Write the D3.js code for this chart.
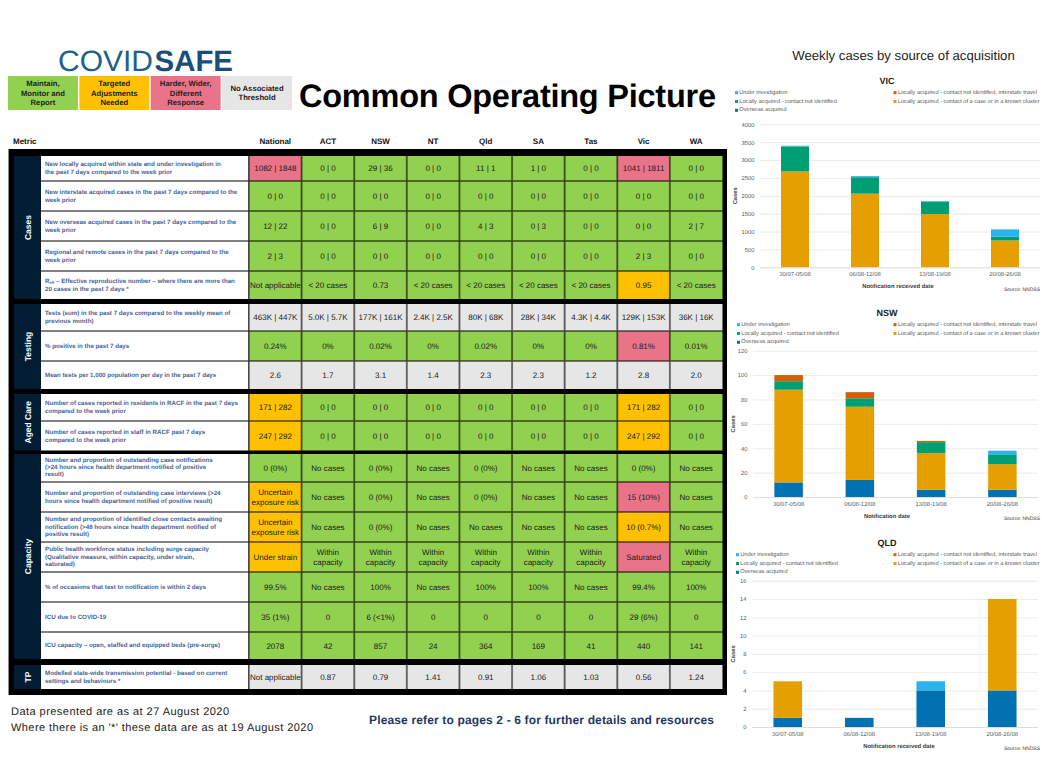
<!DOCTYPE html>
<html>
<head>
<meta charset="utf-8">
<script src="https://cdn.jsdelivr.net/npm/d3@7"></script>
<style>
    html, body { margin: 0; padding: 0; background: white; overflow: hidden; }
    svg { display: block; text-rendering: geometricPrecision; }
    text { font-family: "Liberation Sans", Arial, sans-serif; }
</style>
</head>
<body>
<div id="bigdiv"></div>
<script>
// ---- table data ----
const jurisdictions = ['National', 'ACT', 'NSW', 'NT', 'Qld', 'SA', 'Tas', 'Vic', 'WA']

const groupNames = ['Cases', 'Testing', 'Aged Care', 'Capacity', 'TP']
const groupRowCounts = [5, 3, 2, 7, 1]

const statusKey = ['Maintain,\nMonitor and\nReport', 'Targeted\nAdjustments\nNeeded', 'Harder, Wider,\nDifferent\nResponse', 'No Associated\nThreshold']

const metricLabels = [
    'New locally acquired within state and under investigation in\nthe past 7 days compared to the week prior',
    'New interstate acquired cases in the past 7 days compared to the\nweek prior',
    'New overseas acquired cases in the past 7 days compared to the\nweek prior',
    'Regional and remote cases in the past 7 days compared to the\nweek prior',
    'Reff – Effective reproductive number – where there are more than\n20 cases in the past 7 days *',
    'Tests (sum) in the past 7 days compared to the weekly mean of\nprevious month)',
    '% positive in the past 7 days',
    'Mean tests per 1,000 population per day in the past 7 days',
    'Number of cases reported in residents in RACF in the past 7 days\ncompared to the week prior',
    'Number of cases reported in staff in RACF past 7 days\ncompared to the week prior',
    'Number and proportion of outstanding case notifications\n(>24 hours since health department notified of positive\nresult)',
    'Number and proportion of outstanding case interviews (>24\nhours since health department notified of positive result)',
    'Number and proportion of identified close contacts awaiting\nnotification (>48 hours since health department notified of\npositive result)',
    'Public health workforce status including surge capacity\n(Qualitative measure, within capacity, under strain,\nsaturated)',
    '% of occasions that test to notification is within 2 days',
    'ICU due to COVID-19',
    'ICU capacity – open, staffed and equipped beds (pre-surge)',
    'Modelled state-wide transmission potential - based on current\nsettings and behaviours *'
]

const cellValues = [
    ['1082 | 1848', '0 | 0', '29 | 36', '0 | 0', '11 | 1', '1 | 0', '0 | 0', '1041 | 1811', '0 | 0'],
    ['0 | 0', '0 | 0', '0 | 0', '0 | 0', '0 | 0', '0 | 0', '0 | 0', '0 | 0', '0 | 0'],
    ['12 | 22', '0 | 0', '6 | 9', '0 | 0', '4 | 3', '0 | 3', '0 | 0', '0 | 0', '2 | 7'],
    ['2 | 3', '0 | 0', '0 | 0', '0 | 0', '0 | 0', '0 | 0', '0 | 0', '2 | 3', '0 | 0'],
    ['Not applicable', '< 20 cases', '0.73', '< 20 cases', '< 20 cases', '< 20 cases', '< 20 cases', '0.95', '< 20 cases'],
    ['463K | 447K', '5.0K | 5.7K', '177K | 161K', '2.4K | 2.5K', '80K | 68K', '28K | 34K', '4.3K | 4.4K', '129K | 153K', '36K | 16K'],
    ['0.24%', '0%', '0.02%', '0%', '0.02%', '0%', '0%', '0.81%', '0.01%'],
    ['2.6', '1.7', '3.1', '1.4', '2.3', '2.3', '1.2', '2.8', '2.0'],
    ['171 | 282', '0 | 0', '0 | 0', '0 | 0', '0 | 0', '0 | 0', '0 | 0', '171 | 282', '0 | 0'],
    ['247 | 292', '0 | 0', '0 | 0', '0 | 0', '0 | 0', '0 | 0', '0 | 0', '247 | 292', '0 | 0'],
    ['0 (0%)', 'No cases', '0 (0%)', 'No cases', '0 (0%)', 'No cases', 'No cases', '0 (0%)', 'No cases'],
    ['Uncertain\nexposure risk', 'No cases', '0 (0%)', 'No cases', '0 (0%)', 'No cases', 'No cases', '15 (10%)', 'No cases'],
    ['Uncertain\nexposure risk', 'No cases', '0 (0%)', 'No cases', 'No cases', 'No cases', 'No cases', '10 (0.7%)', 'No cases'],
    ['Under strain', 'Within\ncapacity', 'Within\ncapacity', 'Within\ncapacity', 'Within\ncapacity', 'Within\ncapacity', 'Within\ncapacity', 'Saturated', 'Within\ncapacity'],
    ['99.5%', 'No cases', '100%', 'No cases', '100%', '100%', 'No cases', '99.4%', '100%'],
    ['35 (1%)', '0', '6 (<1%)', '0', '0', '0', '0', '29 (6%)', '0'],
    ['2078', '42', '857', '24', '364', '169', '41', '440', '141'],
    ['Not applicable', '0.87', '0.79', '1.41', '0.91', '1.06', '1.03', '0.56', '1.24']
]

// g green, a amber, r red, n no threshold
const cellStatus = [
    'rggggggrg', 'ggggggggg', 'ggggggggg', 'ggggggggg', 'gggggggag',
    'nnnnnnnnn', 'gggggggrg', 'nnnnnnnnn',
    'aggggggag', 'aggggggag',
    'ggggggggg', 'aggggggrg', 'aggggggag', 'aggggggrg', 'ggggggggg', 'ggggggggg', 'ggggggggg',
    'nnnnnnnnn'
]

// ---- chart data ----
const weekLabels = ['30/07-05/08', '06/08-12/08', '13/08-19/08', '20/08-26/08']
const sourceKeys = ['overseas', 'cluster', 'notIdentified', 'interstate', 'investigation']
const legendLabels = [
    ['Under investigation', 'Locally acquired - contact not identified, interstate travel'],
    ['Locally acquired - contact not identified', 'Locally acquired - contact of a case or in a known cluster'],
    ['Overseas acquired']
]
const legendKeys = [['investigation', 'interstate'], ['notIdentified', 'cluster'], ['overseas']]

const vicOverseas = [0, 0, 0, 0]
const vicCluster = [2680, 2060, 1490, 750]
const vicNotIdentified = [700, 460, 350, 110]
const vicInterstate = [0, 0, 0, 0]
const vicInvestigation = [20, 30, 10, 200]

const nswOverseas = [12, 14, 6, 6]
const nswCluster = [76, 60, 30, 21]
const nswNotIdentified = [7, 7, 9, 8]
const nswInterstate = [5, 5, 1, 0]
const nswInvestigation = [0, 0, 0, 3]

const qldOverseas = [1, 1, 4, 4]
const qldCluster = [4, 0, 0, 10]
const qldNotIdentified = [0, 0, 0, 0]
const qldInterstate = [0, 0, 0, 0]
const qldInvestigation = [0, 0, 1, 0]

const statusColor = { g: '#92D050', a: '#FFC000', r: '#E9748A', n: '#E6E6E6' }
const sourceColor = { overseas: '#0072B2', cluster: '#E69F00', notIdentified: '#009E73', interstate: '#D55E00', investigation: '#2BB3EE' }
const navy = '#021D33'

const svg = d3.select('#bigdiv').append('svg').attr('width', 1042).attr('height', 782)

function multiline(sel, str, x, cy, lineH) {
    let lines = str.split('\n')
    lines.forEach((ln, i) => {
        sel.append('tspan').attr('x', x)
            .attr('y', cy + (i - (lines.length - 1) / 2) * lineH)
            .attr('dominant-baseline', 'central')
            .text(ln)
    })
}

function buildHeader() {
    svg.append('text').attr('x', 58).attr('y', 70.5).attr('font-size', 29.5).attr('fill', '#1F5F8B')
        .attr('font-family', 'Lato').attr('font-weight', 300)
        .attr('textLength', 95).attr('lengthAdjust', 'spacingAndGlyphs').text('COVID')
    svg.append('text').attr('x', 154.5).attr('y', 70.5).attr('font-size', 29.5).attr('fill', '#1C4E77')
        .attr('font-family', 'Lato').attr('font-weight', 900)
        .attr('textLength', 78.5).attr('lengthAdjust', 'spacingAndGlyphs').text('SAFE')

    let keyX = d3.scaleBand().domain(d3.range(4)).range([8, 292]).paddingInner(0.02)
    let keyCols = ['g', 'a', 'r', 'n']
    let keyg = svg.append('g').selectAll('g').data(statusKey).enter().append('g')
        .attr('transform', (d, i) => 'translate(' + keyX(i) + ',76)')
    keyg.append('rect').attr('width', keyX.bandwidth()).attr('height', 34)
        .attr('fill', (d, i) => statusColor[keyCols[i]])
    keyg.append('text').attr('text-anchor', 'middle').attr('font-size', 7.7).attr('font-weight', 700).attr('fill', '#222')
        .each(function (d) { multiline(d3.select(this), d, keyX.bandwidth() / 2, 17, 9.3) })

    svg.append('text').attr('x', 299).attr('y', 107).attr('font-size', 32.5).attr('font-weight', 700)
        .attr('fill', '#000').attr('textLength', 417).attr('lengthAdjust', 'spacing').text('Common Operating Picture')
}

function buildTable() {
    // row heights, gaps between the groups are black
    let rowH = [25.5, 30, 30, 30, 27.5, 27.5, 30, 27.5, 27.5, 29, 28.5, 30, 30, 30, 30, 30, 26.5, 24]
    let groupGap = [5, 5, 3.5, 6]

    let colX = d3.scaleBand().domain(jurisdictions).range([249, 722.5])
    let frame = svg.append('g')

    frame.append('rect').attr('x', 8).attr('y', 149).attr('width', 719).attr('height', 546).attr('fill', '#000')
    frame.append('rect').attr('x', 8).attr('y', 149).attr('width', 1).attr('height', 546).attr('fill', '#8a8a8a')

    jurisdictions.forEach(j => {
        frame.append('text').attr('x', colX(j) + colX.bandwidth() / 2).attr('y', 144)
            .attr('text-anchor', 'middle').attr('font-size', 8).attr('font-weight', 700).attr('fill', '#111').text(j)
    })
    frame.append('text').attr('x', 13).attr('y', 144).attr('font-size', 8).attr('font-weight', 700).attr('fill', '#111').text('Metric')

    let y = 156
    let r = 0
    groupNames.forEach((name, gi) => {
        let gTop = y
        for (let k = 0; k < groupRowCounts[gi]; k++, r++) {
            let h = rowH[r]
            let last = k === groupRowCounts[gi] - 1
            let cellH = last ? h : h - 1

            frame.append('rect').attr('x', 41).attr('y', y).attr('width', 207.5).attr('height', cellH).attr('fill', '#fff')
            let label = frame.append('text').attr('font-size', 6.2).attr('font-weight', 700).attr('fill', '#4A6499')
            if (metricLabels[r].startsWith('Reff')) {
                let parts = metricLabels[r].split('\n')
                label.attr('dominant-baseline', 'central')
                label.append('tspan').attr('x', 45).attr('y', y + cellH / 2 - 4).text('R')
                label.append('tspan').attr('font-size', 4).attr('dy', 1.2).text('eff')
                label.append('tspan').attr('dy', -1.2).text(parts[0].slice(4))
                label.append('tspan').attr('x', 45).attr('y', y + cellH / 2 + 4).text(parts[1])
            } else {
                let n = metricLabels[r].split('\n').length
                multiline(label, metricLabels[r], 45, y + cellH / 2, n === 3 ? 7.2 : 8)
            }

            jurisdictions.forEach((j, c) => {
                let st = cellStatus[r][c]
                let cx = colX(j)
                frame.append('rect').attr('x', cx).attr('y', y).attr('width', colX.bandwidth()).attr('height', cellH)
                    .attr('fill', statusColor[st])
                frame.append('rect').attr('x', cx - (c === 0 ? 0.5 : 1)).attr('y', y).attr('width', c === 0 ? 1 : 2).attr('height', cellH)
                    .attr('fill', '#000').attr('opacity', c === 0 ? 0.85 : 0.5)
                let t = frame.append('text').attr('text-anchor', 'middle').attr('font-size', 8).attr('fill', '#1a1a1a')
                multiline(t, cellValues[r][c], cx + colX.bandwidth() / 2, y + cellH / 2 + 0.4, 10)
            })
            y += h
        }
        frame.append('rect').attr('x', 14).attr('y', gTop).attr('width', 27).attr('height', y - gTop).attr('fill', navy)
        frame.append('text')
            .attr('transform', 'translate(27.5,' + (gTop + (y - gTop) / 2) + ') rotate(-90)')
            .attr('text-anchor', 'middle').attr('dominant-baseline', 'central')
            .attr('font-size', 8.5).attr('font-weight', 700).attr('fill', '#fff').text(name)
        if (gi < groupGap.length) y += groupGap[gi]
    })
}

function buildFooter() {
    let foot = svg.append('g').attr('font-size', 11).attr('fill', '#222')
    foot.append('text').attr('x', 11).attr('y', 715).attr('textLength', 218).text('Data presented are as at 27 August 2020')
    foot.append('text').attr('x', 11).attr('y', 731).attr('textLength', 302).text("Where there is an '*' these data are as at 19 August 2020")
    svg.append('text').attr('x', 369).attr('y', 724).attr('font-size', 12).attr('font-weight', 700).attr('fill', '#1F3864')
        .attr('textLength', 345).text('Please refer to pages 2 - 6 for further details and resources')
    svg.append('text').attr('x', 903.5).attr('y', 60).attr('text-anchor', 'middle').attr('font-size', 13.2).attr('fill', '#222')
        .attr('font-family', 'Noto Sans').text('Weekly cases by source of acquisition')
}

function buildChart(name, columns, c) {
    let rows = weekLabels.map((w, i) => {
        let row = { week: w }
        sourceKeys.forEach((k, ki) => { row[k] = columns[ki][i] })
        return row
    })
    let series = d3.stack().keys(sourceKeys)(rows)

    let x = d3.scaleBand().domain(weekLabels).range([c.left, c.right]).paddingInner(0.6).paddingOuter(0.3)
    let y = d3.scaleLinear().domain([0, c.max]).range([c.base, c.top])

    let g = svg.append('g')

    g.append('g').attr('transform', 'translate(' + c.left + ',0)')
        .call(d3.axisLeft(y).tickValues(d3.range(0, c.max + 1, c.step)).tickFormat(d3.format('d'))
            .tickSize(-(c.right - c.left)).tickPadding(5.5))
        .call(a => a.select('.domain').remove())
        .call(a => a.selectAll('line').attr('stroke', '#E3E3E3').attr('stroke-width', 0.7))
        .call(a => a.selectAll('text').attr('font-size', 5.8).attr('fill', '#595959'))

    g.selectAll('g.series').data(series).enter().append('g').attr('class', 'series')
        .attr('fill', d => sourceColor[d.key])
        .selectAll('rect').data(d => d).enter().append('rect')
        .attr('x', d => x(d.data.week))
        .attr('width', x.bandwidth())
        .attr('y', d => y(d[1]))
        .attr('height', d => y(d[0]) - y(d[1]))

    g.append('g').attr('transform', 'translate(0,' + c.base + ')')
        .call(d3.axisBottom(x).tickSize(0).tickPadding(5))
        .call(a => a.select('.domain').attr('stroke', '#D9D9D9').attr('stroke-width', 0.7))
        .call(a => a.selectAll('text').attr('font-size', 5.9).attr('fill', '#595959'))

    g.append('text').attr('x', c.titleX).attr('y', c.titleY).attr('text-anchor', 'middle')
        .attr('dominant-baseline', 'central').attr('font-size', 9).attr('font-weight', 700).attr('fill', '#222').text(name)

    g.append('text').attr('transform', 'translate(' + c.casesX + ',' + ((c.top + c.base) / 2) + ') rotate(-90)')
        .attr('text-anchor', 'middle').attr('dominant-baseline', 'central')
        .attr('font-size', 5.8).attr('font-weight', 700).attr('fill', '#404040').text('Cases')

    g.append('text').attr('x', c.xLabelX).attr('y', c.base + 19.5).attr('text-anchor', 'middle')
        .attr('dominant-baseline', 'central').attr('font-size', 5.9).attr('font-weight', 700).attr('fill', '#404040').text(c.xLabel)

    g.append('text').attr('x', 1040).attr('y', c.base + 22.3).attr('text-anchor', 'end')
        .attr('dominant-baseline', 'central').attr('font-size', 5).attr('fill', '#404040').text('Source: NNDSS')

    // legend, two columns and three rows
    legendLabels.forEach((row, ri) => {
        row.forEach((lab, ci) => {
            let mx = ci === 0 ? c.legendX : 893.5
            let my = c.legendY + ri * 8.8
            g.append('rect').attr('x', mx).attr('y', my - 1.5).attr('width', 3).attr('height', 3)
                .attr('fill', sourceColor[legendKeys[ri][ci]])
            g.append('text').attr('x', mx + 4.3).attr('y', my).attr('dominant-baseline', 'central')
                .attr('font-size', 5.65).attr('fill', '#595959').text(lab)
        })
    })
}

buildHeader()
buildTable()
buildFooter()

buildChart('VIC', [vicOverseas, vicCluster, vicNotIdentified, vicInterstate, vicInvestigation], {
    left: 760, right: 1040, top: 124.3, base: 267.3, max: 4000, step: 500,
    titleX: 887, titleY: 81, casesX: 736, legendX: 735, legendY: 92.7,
    xLabel: 'Notification received date', xLabelX: 898
})
buildChart('NSW', [nswOverseas, nswCluster, nswNotIdentified, nswInterstate, nswInvestigation], {
    left: 753, right: 1038, top: 350.7, base: 497, max: 120, step: 20,
    titleX: 887, titleY: 312.7, casesX: 734, legendX: 737, legendY: 324.7,
    xLabel: 'Notification date', xLabelX: 887
})
buildChart('QLD', [qldOverseas, qldCluster, qldNotIdentified, qldInterstate, qldInvestigation], {
    left: 752, right: 1038, top: 580.7, base: 727, max: 16, step: 2,
    titleX: 887, titleY: 542.7, casesX: 734, legendX: 736, legendY: 554.7,
    xLabel: 'Notification received date', xLabelX: 899
})
</script>
</body>
</html>
